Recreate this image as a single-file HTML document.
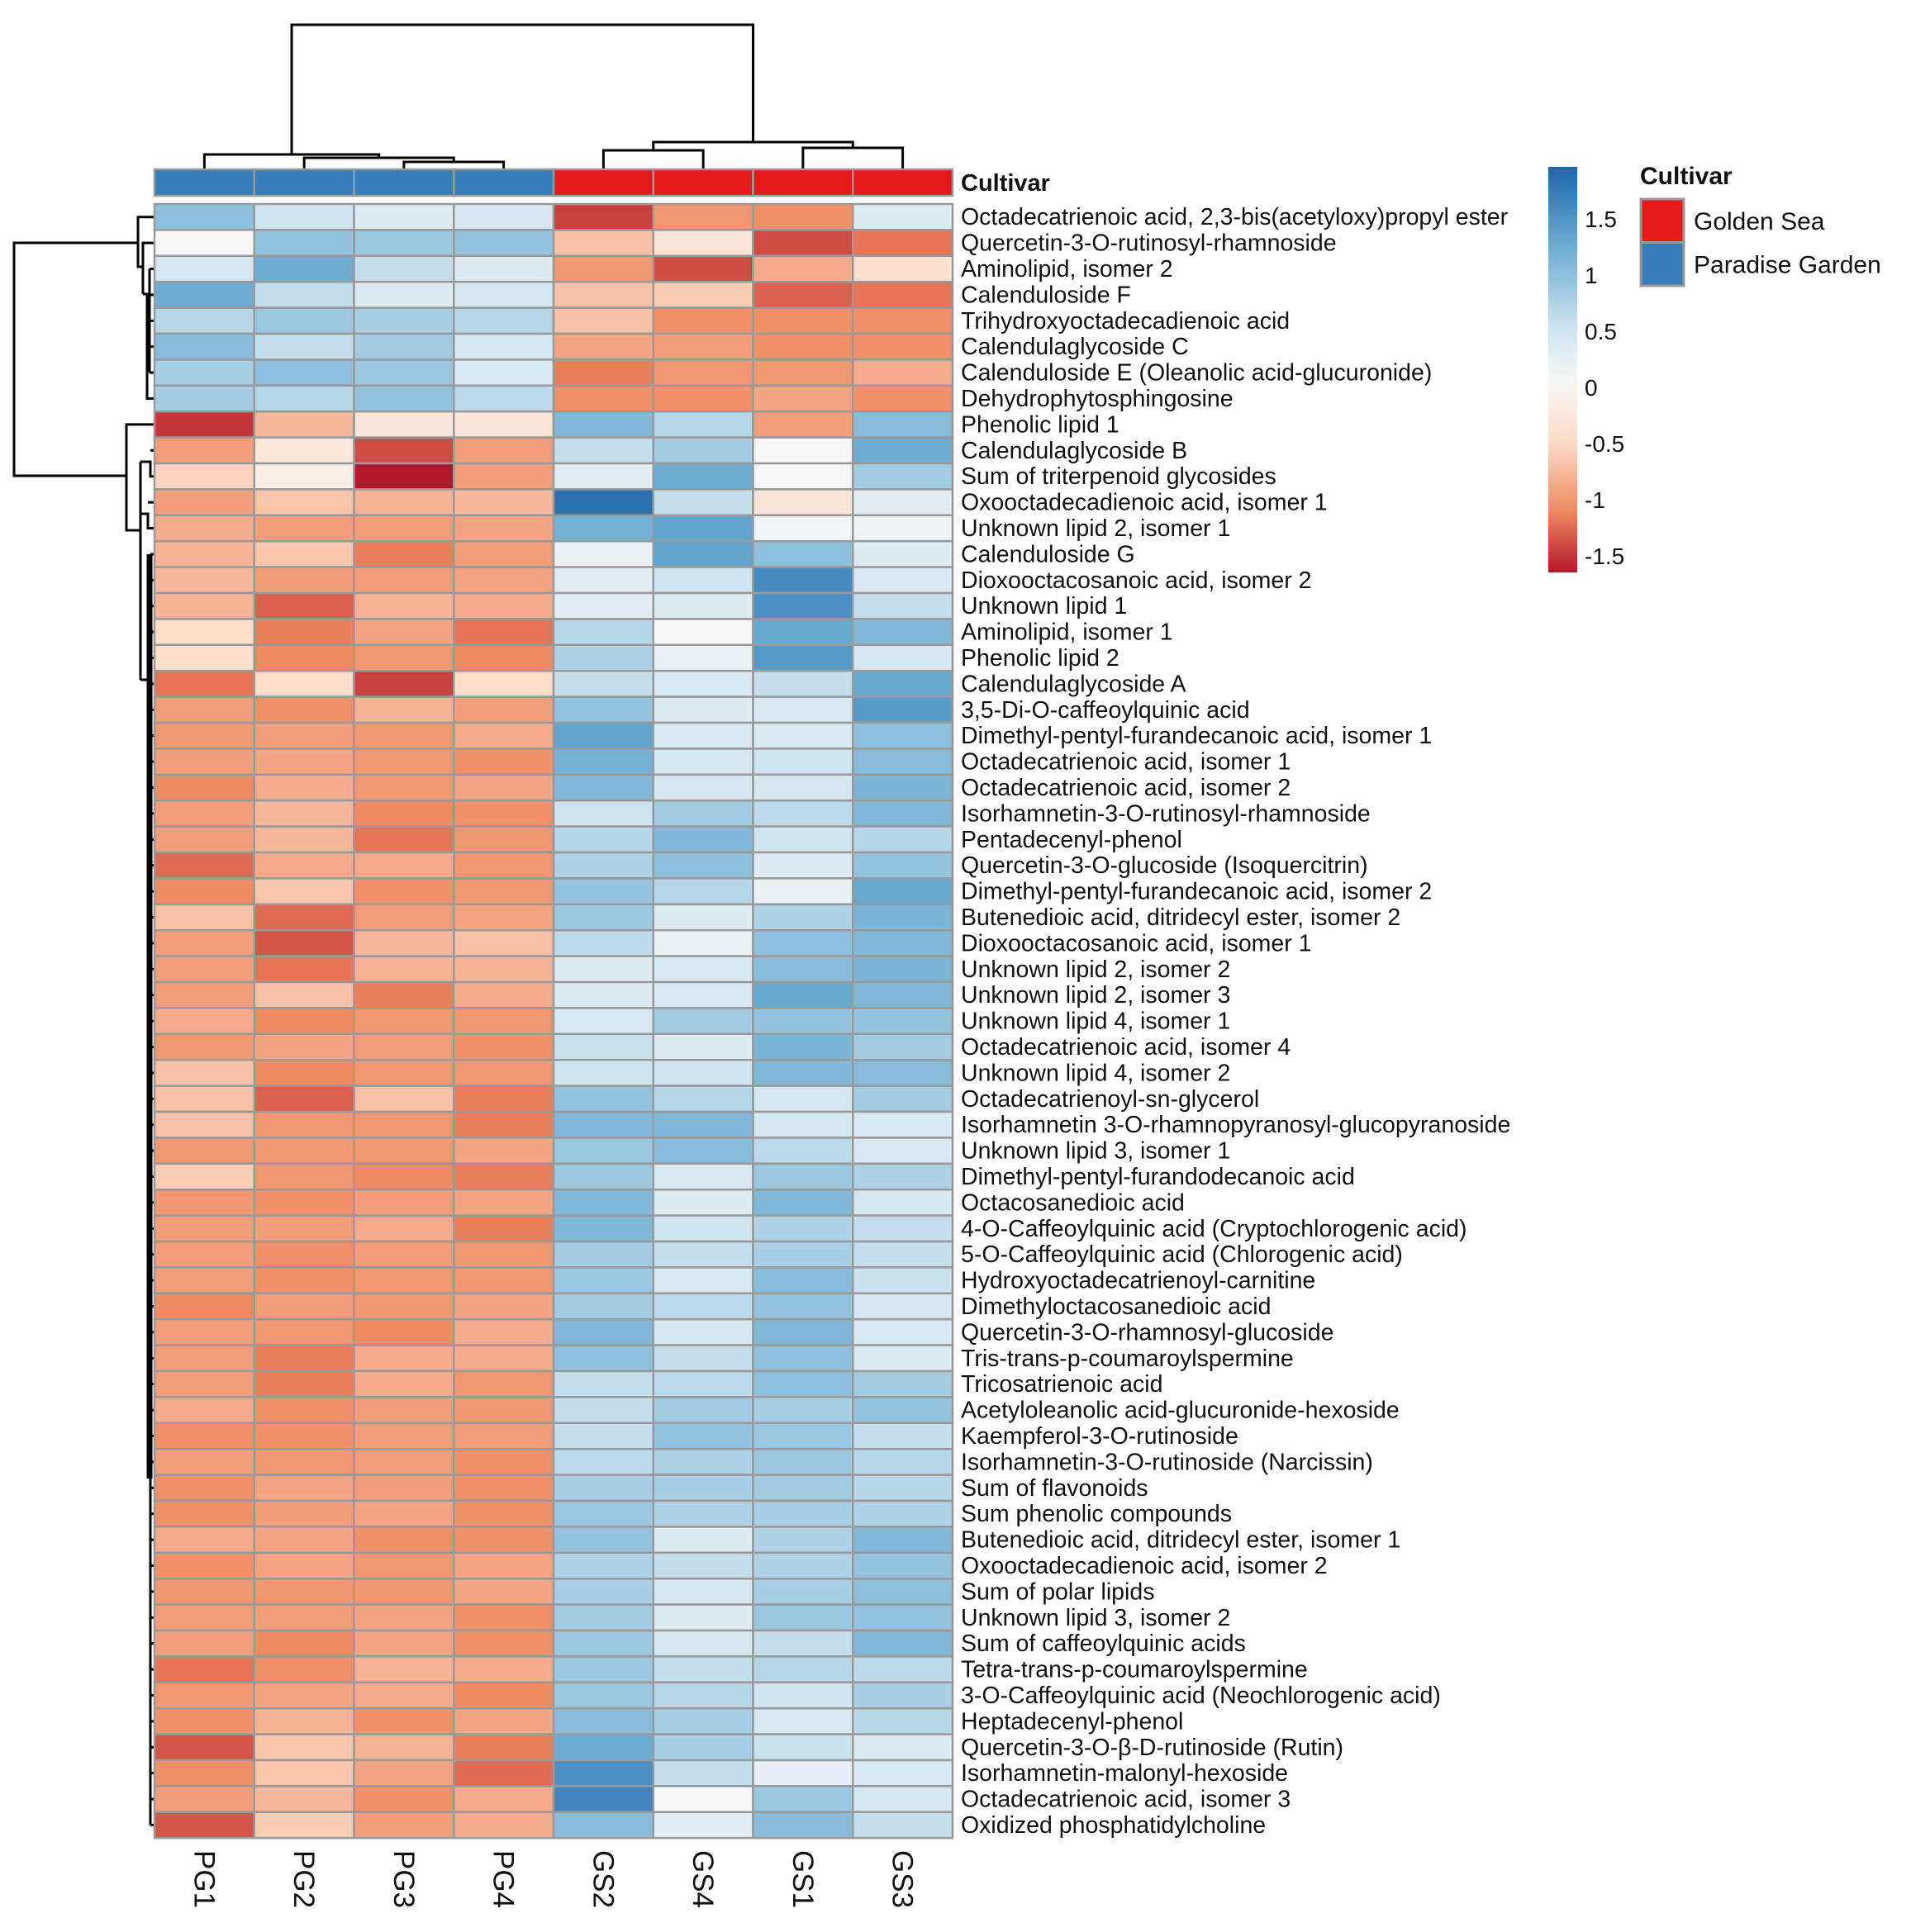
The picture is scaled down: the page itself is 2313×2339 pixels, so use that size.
<!DOCTYPE html>
<html><head><meta charset="utf-8">
<style>
html,body{margin:0;padding:0;background:#fff;}
svg{display:block;}
text{font-family:"Liberation Sans",Arial,sans-serif;fill:#111;}
</style></head>
<body>
<svg id="chart" width="2313" height="2339" viewBox="0 0 2313 2339" xmlns="http://www.w3.org/2000/svg">
  <rect x="0" y="0" width="2313" height="2339" fill="#fff"/>
  <g id="topDendro" stroke="#000" stroke-width="3" fill="none"></g>
  <g id="leftDendro" stroke="#000" stroke-width="3" fill="none"></g>
  <g id="annot"></g>
  <g id="cells"></g>
  <g id="rowLabels"></g>
  <g id="colLabels"></g>
  <g id="colorbar"></g>
  <g id="legend"></g>
</svg>
<script>
const samples = ["PG1","PG2","PG3","PG4","GS2","GS4","GS1","GS3"];
const cultivar = ["PG","PG","PG","PG","GS","GS","GS","GS"];
const metabolites = [
"Octadecatrienoic acid, 2,3-bis(acetyloxy)propyl ester","Quercetin-3-O-rutinosyl-rhamnoside","Aminolipid, isomer 2","Calenduloside F","Trihydroxyoctadecadienoic acid","Calendulaglycoside C","Calenduloside E (Oleanolic acid-glucuronide)","Dehydrophytosphingosine","Phenolic lipid 1","Calendulaglycoside B","Sum of triterpenoid glycosides","Oxooctadecadienoic acid, isomer 1","Unknown lipid 2, isomer 1","Calenduloside G","Dioxooctacosanoic acid, isomer 2","Unknown lipid 1","Aminolipid, isomer 1","Phenolic lipid 2","Calendulaglycoside A","3,5-Di-O-caffeoylquinic acid","Dimethyl-pentyl-furandecanoic acid, isomer 1","Octadecatrienoic acid, isomer 1","Octadecatrienoic acid, isomer 2","Isorhamnetin-3-O-rutinosyl-rhamnoside","Pentadecenyl-phenol","Quercetin-3-O-glucoside (Isoquercitrin)","Dimethyl-pentyl-furandecanoic acid, isomer 2","Butenedioic acid, ditridecyl ester, isomer 2","Dioxooctacosanoic acid, isomer 1","Unknown lipid 2, isomer 2","Unknown lipid 2, isomer 3","Unknown lipid 4, isomer 1","Octadecatrienoic acid, isomer 4","Unknown lipid 4, isomer 2","Octadecatrienoyl-sn-glycerol","Isorhamnetin 3-O-rhamnopyranosyl-glucopyranoside","Unknown lipid 3, isomer 1","Dimethyl-pentyl-furandodecanoic acid","Octacosanedioic acid","4-O-Caffeoylquinic acid (Cryptochlorogenic acid)","5-O-Caffeoylquinic acid (Chlorogenic acid)","Hydroxyoctadecatrienoyl-carnitine","Dimethyloctacosanedioic acid","Quercetin-3-O-rhamnosyl-glucoside","Tris-trans-p-coumaroylspermine","Tricosatrienoic acid","Acetyloleanolic acid-glucuronide-hexoside","Kaempferol-3-O-rutinoside","Isorhamnetin-3-O-rutinoside (Narcissin)","Sum of flavonoids","Sum phenolic compounds","Butenedioic acid, ditridecyl ester, isomer 1","Oxooctadecadienoic acid, isomer 2","Sum of polar lipids","Unknown lipid 3, isomer 2","Sum of caffeoylquinic acids","Tetra-trans-p-coumaroylspermine","3-O-Caffeoylquinic acid (Neochlorogenic acid)","Heptadecenyl-phenol","Quercetin-3-O-\u03b2-D-rutinoside (Rutin)","Isorhamnetin-malonyl-hexoside","Octadecatrienoic acid, isomer 3","Oxidized phosphatidylcholine"];
const values = [
[1.0,0.5,0.35,0.45,-1.45,-1.0,-1.05,0.35],
[0.05,0.95,0.9,0.95,-0.7,-0.3,-1.4,-1.2],
[0.45,1.25,0.6,0.35,-1.0,-1.4,-0.85,-0.4],
[1.25,0.6,0.35,0.45,-0.7,-0.6,-1.3,-1.2],
[0.7,0.9,0.8,0.7,-0.7,-1.05,-1.05,-1.05],
[1.05,0.6,0.85,0.45,-0.9,-0.95,-1.05,-1.05],
[0.8,1.0,0.9,0.4,-1.15,-1.0,-1.0,-0.85],
[0.85,0.7,0.95,0.65,-1.05,-1.05,-0.9,-1.05],
[-1.5,-0.75,-0.3,-0.3,1.1,0.7,-0.95,1.05],
[-0.95,-0.25,-1.4,-0.95,0.6,0.85,0.05,1.25],
[-0.55,-0.15,-1.65,-0.95,0.3,1.25,0.05,0.85],
[-0.95,-0.65,-0.8,-0.75,1.85,0.6,-0.3,0.3],
[-0.85,-0.95,-0.95,-0.9,1.2,1.35,0.1,0.15],
[-0.8,-0.65,-1.15,-0.95,0.2,1.35,1.0,0.35],
[-0.75,-0.95,-0.95,-0.9,0.3,0.5,1.6,0.4],
[-0.8,-1.3,-0.8,-0.85,0.3,0.35,1.55,0.6],
[-0.45,-1.15,-0.9,-1.2,0.7,0.05,1.3,1.1],
[-0.45,-1.1,-1.0,-1.1,0.75,0.2,1.45,0.45],
[-1.2,-0.45,-1.45,-0.45,0.6,0.4,0.6,1.3],
[-0.95,-1.05,-0.8,-0.95,0.95,0.35,0.4,1.45],
[-1.0,-0.95,-1.0,-0.85,1.35,0.4,0.4,1.0],
[-0.95,-0.9,-1.0,-1.05,1.2,0.45,0.5,1.05],
[-1.1,-0.85,-1.0,-0.9,1.1,0.45,0.45,1.15],
[-0.95,-0.75,-1.1,-1.05,0.5,0.85,0.65,1.1],
[-0.95,-0.75,-1.2,-1.0,0.7,1.1,0.5,0.7],
[-1.25,-0.85,-0.85,-1.0,0.75,1.0,0.35,0.95],
[-1.1,-0.65,-1.05,-1.0,0.95,0.7,0.2,1.3],
[-0.7,-1.25,-0.95,-0.9,0.9,0.35,0.75,1.15],
[-0.95,-1.35,-0.75,-0.7,0.65,0.2,1.0,1.1],
[-0.95,-1.2,-0.8,-0.8,0.35,0.4,1.05,1.15],
[-0.95,-0.7,-1.15,-0.85,0.35,0.4,1.3,1.1],
[-0.85,-1.1,-1.0,-1.0,0.4,0.85,0.95,0.95],
[-1.0,-0.9,-0.95,-1.05,0.55,0.35,1.15,0.85],
[-0.7,-1.1,-1.0,-1.0,0.5,0.5,1.1,1.05],
[-0.7,-1.3,-0.7,-1.15,0.95,0.7,0.45,0.85],
[-0.7,-1.0,-1.0,-1.15,1.1,1.1,0.45,0.4],
[-1.0,-1.0,-1.0,-0.9,0.9,1.05,0.65,0.4],
[-0.6,-1.0,-1.1,-1.15,0.9,0.4,0.9,0.75],
[-1.0,-1.05,-0.95,-0.9,1.1,0.35,1.1,0.45],
[-0.95,-0.95,-0.85,-1.15,1.1,0.5,0.75,0.6],
[-0.95,-1.05,-0.95,-1.0,0.85,0.6,0.8,0.6],
[-0.95,-1.05,-1.0,-1.0,0.9,0.4,1.05,0.55],
[-1.1,-0.95,-1.0,-0.9,0.85,0.65,0.95,0.45],
[-0.95,-1.0,-1.1,-0.85,1.1,0.45,1.1,0.4],
[-0.95,-1.15,-0.85,-0.85,1.0,0.6,1.0,0.35],
[-0.95,-1.15,-0.85,-1.0,0.6,0.65,1.0,0.85],
[-0.85,-1.05,-0.95,-1.0,0.6,0.85,0.8,0.95],
[-1.05,-1.05,-0.95,-0.95,0.6,0.95,0.9,0.6],
[-0.95,-1.0,-0.95,-1.05,0.65,0.75,0.9,0.7],
[-1.05,-0.9,-0.95,-1.05,0.8,0.8,0.85,0.7],
[-1.05,-0.95,-0.9,-1.05,0.9,0.75,0.8,0.75],
[-0.85,-0.9,-1.05,-1.05,0.95,0.35,0.75,1.1],
[-1.05,-0.9,-1.0,-0.9,0.75,0.6,0.75,0.95],
[-1.0,-1.0,-1.0,-0.9,0.8,0.45,0.8,1.0],
[-0.95,-0.95,-0.9,-1.05,0.85,0.35,0.9,0.95],
[-0.95,-1.1,-0.9,-1.05,0.9,0.45,0.6,1.1],
[-1.2,-1.05,-0.8,-0.85,0.9,0.6,0.7,0.65],
[-1.0,-0.9,-0.85,-1.1,0.9,0.7,0.5,0.8],
[-1.05,-0.8,-1.05,-0.9,1.05,0.8,0.4,0.7],
[-1.35,-0.65,-0.8,-1.15,1.25,0.8,0.55,0.35],
[-1.05,-0.65,-0.9,-1.25,1.55,0.6,0.25,0.4],
[-0.95,-0.75,-1.05,-0.85,1.65,0.05,0.9,0.45],
[-1.35,-0.6,-0.95,-0.85,1.05,0.3,1.05,0.6]];
const scaleTicks = [1.5,1,0.5,0,-0.5,-1,-1.5];
const scaleLabels = ["1.5","1","0.5","0","-0.5","-1","-1.5"];
const legendNames = ["Golden Sea","Paradise Garden"];

const NS="http://www.w3.org/2000/svg";
function mk(tag, attrs, parent){const e=document.createElementNS(NS,tag);for(const k in attrs)e.setAttribute(k,attrs[k]);parent.appendChild(e);return e;}

const X0=187, CW=120.75, Y0=247, RH=31.4;
const xCol = i => X0 + CW*i;
const yRow = r => Y0 + RH*r;
const stopsV=[-1.65,-1.1,-0.5,0.05,0.5,1.3,1.95];
const stopsC=[[178,24,43],[239,138,98],[253,219,199],[247,247,247],[209,229,240],[103,169,207],[33,102,172]];
function color(v){
  if(v<=stopsV[0])return rgb(stopsC[0]);
  for(let i=1;i<stopsV.length;i++){ if(v<=stopsV[i]){const t=(v-stopsV[i-1])/(stopsV[i]-stopsV[i-1]);const a=stopsC[i-1],b=stopsC[i];return rgb([a[0]+(b[0]-a[0])*t,a[1]+(b[1]-a[1])*t,a[2]+(b[2]-a[2])*t]);}}
  return rgb(stopsC[stopsC.length-1]);
}
function rgb(c){return "rgb("+c.map(Math.round).join(",")+")";}

const cells=document.getElementById('cells');
values.forEach((row,r)=>{row.forEach((v,c)=>{
  const el=mk('rect',{x:xCol(c),y:yRow(r),width:CW,height:RH,fill:color(v),stroke:'#999',"stroke-width":2.5},cells);
  
  
});});

const annot=document.getElementById('annot');
cultivar.forEach((g,c)=>{
  const el=mk('rect',{x:xCol(c),y:205,width:CW,height:32,fill:g==="PG"?"#377EB8":"#E41A1C",stroke:'#999',"stroke-width":2.5},annot);
  
  
});
const at=mk('text',{x:1163,y:231,"font-size":29,"font-weight":"bold"},annot);at.textContent="Cultivar";



const rl=document.getElementById('rowLabels');
metabolites.forEach((m,r)=>{
  const t=mk('text',{x:1163,y:yRow(r)+RH/2+9.5,"font-size":28.5},rl);t.textContent=m;
  
  
});
const cl=document.getElementById('colLabels');
samples.forEach((s,c)=>{
  const cx=xCol(c)+CW/2;
  const t=mk('text',{x:0,y:0,"font-size":35,transform:`translate(${cx-12},2240) rotate(90)`},cl);t.textContent=s;
  
  
});

const td=document.getElementById('topDendro');
const cc=i=>xCol(i)+CW/2;
function seg(p,d){const e=mk('path',{d:d},p);}
seg(td,`M${cc(2)},205 V196 H${cc(3)} V205`);
const m34=(cc(2)+cc(3))/2;
seg(td,`M${cc(1)},205 V191 H${m34} V196`);
const m234=(cc(1)+m34)/2;
seg(td,`M${cc(0)},205 V187 H${m234} V191`);
const mPG=(cc(0)+m234)/2;
seg(td,`M${cc(4)},205 V182 H${cc(5)} V205`);
seg(td,`M${cc(6)},205 V179 H${cc(7)} V205`);
const g1=(cc(4)+cc(5))/2,g2=(cc(6)+cc(7))/2;
seg(td,`M${g1},182 V172 H${g2} V179`);
const mGS=(g1+g2)/2;
seg(td,`M${mPG},187 V30 H${mGS} V172`);

const ld=document.getElementById('leftDendro');
const rc=r=>yRow(r)+RH/2;
seg(ld,`M${X0},${rc(0)} H167 V323 H173`);
seg(ld,`M${X0},${rc(1)} H173 V356`);
seg(ld,`M173,356 H178 V${rc(7)} H${X0}`);
for(let r=2;r<7;r++) seg(ld,`M181,${rc(r)} H${X0}`);
seg(ld,`M181,${rc(2)} V${rc(6)}`);
seg(ld,`M167,294 H17 V576 H153`);
seg(ld,`M${X0},${rc(8)} H153 V642 H170`);
seg(ld,`M170,559 V823`);
seg(ld,`M170,559 H182 V${rc(10)} H${X0}`);
seg(ld,`M182,${rc(9)} H${X0}`);
seg(ld,`M170,622 H179 V${rc(12)} H${X0}`);
seg(ld,`M179,${rc(11)} H${X0}`);
seg(ld,`M170,823 H180`);
const thick=mk('path',{d:`M181,${rc(13)} V1790`,"stroke-width":7},ld);


seg(ld,`M182,1790 V${rc(62)}`);
for(let r=13;r<63;r++) seg(ld,`M182,${rc(r)} H${X0}`);

const cb=document.getElementById('colorbar');
const defs=mk('defs',{},cb);
const lg=mk('linearGradient',{id:'grad',x1:0,y1:1,x2:0,y2:0},defs);
const cbTop=202, cbBot=693, zeroY=469, perUnit=136;
const vAt=y=>(zeroY-y)/perUnit;
for(let i=0;i<=40;i++){const y=cbBot-(cbBot-cbTop)*i/40;mk('stop',{offset:(i/40),"stop-color":color(vAt(y))},lg);}
const bar=mk('rect',{x:1874,y:cbTop,width:35,height:cbBot-cbTop,fill:'url(#grad)'},cb);


scaleTicks.forEach((v,i)=>{
  const t=mk('text',{x:1918,y:zeroY-v*perUnit+10,"font-size":28},cb);t.textContent=scaleLabels[i];
  
  
});

const lgd=document.getElementById('legend');
const lt=mk('text',{x:1985,y:223,"font-size":30,"font-weight":"bold"},lgd);lt.textContent="Cultivar";


const legCols=["#E41A1C","#377EB8"];
legendNames.forEach((n,i)=>{
  const r=mk('rect',{x:1986,y:241+i*52.5,width:52,height:52.5,fill:legCols[i],stroke:'#999',"stroke-width":3},lgd);
  
  
  const t=mk('text',{x:2050,y:278+i*52.5,"font-size":30},lgd);t.textContent=n;
  
  
});
</script>
</body></html>
